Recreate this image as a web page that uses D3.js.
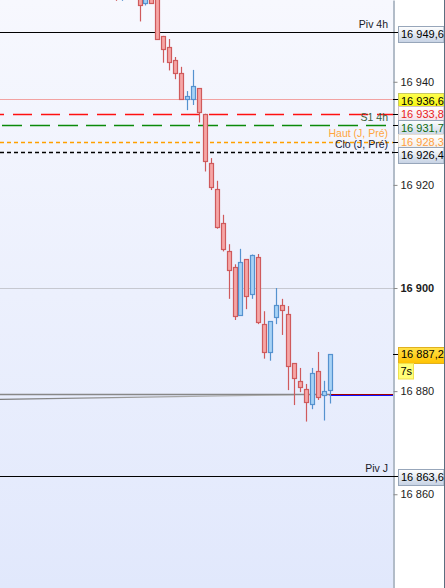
<!DOCTYPE html>
<html><head><meta charset="utf-8">
<script src="https://cdn.jsdelivr.net/npm/d3@7/dist/d3.min.js"></script>
<style>html,body{margin:0;padding:0;background:#fff;overflow:hidden;}svg{display:block;}</style>
</head><body>
<svg id="chart" width="445" height="588"></svg>
<script>
// ---------- DATA ----------
const candleIdx = d3.range(-4, 33);
const opens  = [16962.0,16957.0,16963.0,16958.0,16958.0,16955.2,16957.8,16956.5,16948.9,16946.8,16944.2,16941.7,16936.6,16936.6,16938.7,16933.7,16924.2,16919.2,16912.6,16907.1,16904.0,16894.8,16905.6,16898.9,16906.0,16893.0,16887.5,16894.3,16896.8,16894.9,16885.4,16881.9,16880.4,16877.5,16883.9,16879.3,16880.3];
const highs  = [16963.0,16961.0,16964.0,16963.0,16959.0,16958.0,16958.5,16957.0,16948.9,16948.3,16944.8,16942.9,16938.2,16942.3,16938.7,16933.8,16925.2,16920.8,16914.2,16908.5,16904.6,16907.6,16905.6,16906.5,16906.6,16895.5,16893.6,16900.0,16897.9,16896.5,16885.4,16884.5,16881.4,16884.5,16887.6,16882.0,16887.2];
const lows   = [16955.7,16955.7,16957.0,16956.5,16951.7,16954.8,16955.1,16948.2,16943.7,16942.2,16940.5,16936.6,16934.5,16935.5,16932.1,16922.6,16919.0,16911.5,16907.1,16897.9,16893.8,16894.8,16895.9,16897.9,16893.0,16886.3,16885.9,16893.0,16890.9,16880.2,16877.3,16879.8,16874.1,16876.5,16878.3,16874.3,16877.6];
const closes = [16958.0,16960.0,16959.0,16962.0,16954.8,16957.5,16955.2,16948.2,16946.3,16943.8,16941.7,16936.6,16937.2,16939.2,16934.1,16924.6,16919.5,16911.9,16907.5,16903.4,16894.5,16905.0,16898.5,16906.5,16893.5,16887.5,16893.6,16896.8,16895.8,16884.9,16882.5,16880.9,16877.8,16883.5,16878.9,16880.0,16887.2];

const tickValues = [16860, 16880, 16900, 16920, 16940];
const tickLabels = ["16 860", "16 880", "16 900", "16 920", "16 940"];

const levelValues = [16949.6, 16936.6, 16933.8, 16931.7, 16928.3, 16926.4, 16863.6];
const levelNames  = ["Piv 4h", "", "", "S1 4h", "Haut (J, Pré)", "Clo (J, Pré)", "Piv J"];
const levelTags   = ["16 949,6", "16 936,6", "16 933,8", "16 931,7", "16 928,3", "16 926,4", "16 863,6"];

const lastPrice = 16887.2;
const lastTag = "16 887,2";
const timerLabel = "7s";
const refLevel = 16879.35;
const trendIdx = [-23.6, 26];
const trendVals = [16878.4, 16879.3];

// ---------- LAYOUT / STYLE ----------
const W = 445, H = 588, PR = 393;
const FONT = "'Liberation Sans', Arial, sans-serif";
const svg = d3.select("#chart");
const defs = svg.append("defs");

const y = d3.scaleLinear().domain([16841.82, 16955.86]).range([H, 0]);
const x = d3.scaleLinear().domain([0, 32]).range([139.5, 329.6]);
const cy = v => Math.round(y(v)) + 0.5;

function vgrad(id, stops) {
  const g = defs.append("linearGradient").attr("id", id)
    .attr("x1", 0).attr("y1", 0).attr("x2", 0).attr("y2", 1);
  stops.forEach(([o, c]) => g.append("stop").attr("offset", o).attr("stop-color", c));
}
vgrad("bg", [[0, "#f7f8fe"], [1, "#e1e8fc"]]);
vgrad("tagBlue", [[0, "#ffffff"], [1, "#c6d2e4"]]);
vgrad("tagYellow", [[0, "#ffff50"], [1, "#f2f200"]]);
vgrad("tagPink", [[0, "#ffffff"], [1, "#f2dde6"]]);
vgrad("tagWhite", [[0, "#ffffff"], [1, "#f1ece6"]]);
vgrad("tagGold", [[0, "#ffe24a"], [1, "#ffc200"]]);

const tg = defs.append("linearGradient").attr("id", "trendGrad")
  .attr("gradientUnits", "userSpaceOnUse")
  .attr("x1", 0).attr("y1", 0).attr("x2", x(trendIdx[1])).attr("y2", 0);
tg.append("stop").attr("offset", 0).attr("stop-color", "#7a7a7a");
tg.append("stop").attr("offset", 1).attr("stop-color", "#c4c4c4");

defs.append("clipPath").attr("id", "plotClip").append("rect")
  .attr("x", 0).attr("y", 0).attr("width", PR).attr("height", H);

// background
svg.append("rect").attr("x", 0).attr("y", 0).attr("width", W).attr("height", H).attr("fill", "#fff");
svg.append("rect").attr("x", 0).attr("y", 0).attr("width", PR).attr("height", H).attr("fill", "url(#bg)");

const plot = svg.append("g").attr("clip-path", "url(#plotClip)");

// grid line (major)
plot.append("line").attr("x1", 0).attr("x2", PR)
  .attr("y1", cy(16900)).attr("y2", cy(16900))
  .attr("stroke", "#c6c8d0").attr("stroke-width", 1);

// level lines
const levelStyle = [
  {c: "#000000", w: 1, d: null, off: 0},
  {c: "#f2a2a2", w: 1, d: null, off: 0},
  {c: "#ff1010", w: 1.5, d: "19,9", off: 15},
  {c: "#0a8a0a", w: 1.5, d: "20,8", off: 26},
  {c: "#ffa000", w: 1.3, d: "4,3", off: 0},
  {c: "#000000", w: 1.3, d: "4,3", off: 0},
  {c: "#000000", w: 1, d: null, off: 0}
];
const nameColor = ["#1a1a28", null, null, "#3a5e3a", "#ffa640", "#14213f", "#1a1a28"];

levelValues.forEach((v, i) => {
  const s = levelStyle[i];
  const ln = plot.append("line").attr("x1", 0).attr("x2", PR)
    .attr("y1", cy(v)).attr("y2", cy(v))
    .attr("stroke", s.c).attr("stroke-width", s.w);
  if (s.d) ln.attr("stroke-dasharray", s.d).attr("stroke-dashoffset", s.off);
});

// trend line & reference line
plot.append("line")
  .attr("x1", x(trendIdx[0])).attr("x2", x(trendIdx[1]))
  .attr("y1", y(trendVals[0])).attr("y2", y(trendVals[1]))
  .attr("stroke", "url(#trendGrad)").attr("stroke-width", 1.3);
plot.append("line").attr("x1", 0).attr("x2", x(32))
  .attr("y1", y(refLevel)).attr("y2", y(refLevel))
  .attr("stroke", "#878787").attr("stroke-width", 1.6);
const ry = Math.floor(y(refLevel)) + 0.5;
plot.append("line").attr("x1", x(32)).attr("x2", PR)
  .attr("y1", ry + 1).attr("y2", ry + 1)
  .attr("stroke", "#1010ff").attr("stroke-width", 1);
plot.append("line").attr("x1", x(32)).attr("x2", PR)
  .attr("y1", ry).attr("y2", ry)
  .attr("stroke", "#a00000").attr("stroke-width", 1);

// candles
const candles = candleIdx.map((k, i) => ({k, o: opens[i], h: highs[i], l: lows[i], c: closes[i]}));
const cg = plot.append("g");
candles.forEach(d => {
  const up = d.c >= d.o;
  const stroke = up ? "#5592cf" : "#cf5a5c";
  const fill = up ? "#a8d3f6" : "#f6a6a6";
  const px = Math.round(x(d.k));
  cg.append("line").attr("x1", px + 0.5).attr("x2", px + 0.5)
    .attr("y1", y(d.h)).attr("y2", y(d.l))
    .attr("stroke", stroke).attr("stroke-width", 1.2);
  const top = Math.round(y(Math.max(d.o, d.c)));
  const bot = Math.round(y(Math.min(d.o, d.c)));
  cg.append("rect").attr("x", px - 2 + 0.5).attr("y", top + 0.5)
    .attr("width", 4).attr("height", Math.max(1, bot - top))
    .attr("fill", fill).attr("stroke", stroke).attr("stroke-width", 1.2);
});

// level names in plot (nudged upward when they would collide)
const named = levelValues.map((v, i) => ({i, b: y(v) - 4})).filter(d => levelNames[d.i]);
for (let k = named.length - 2; k >= 0; k--) {
  if (named[k + 1].b - named[k].b < 11) named[k].b = named[k + 1].b - 11;
}
named.forEach(d => {
  plot.append("text").attr("x", 388).attr("y", d.b)
    .attr("text-anchor", "end").attr("font-family", FONT).attr("font-size", 10.5)
    .attr("fill", nameColor[d.i]).text(levelNames[d.i]);
});

// right axis
const axis = d3.axisRight(y).tickValues(tickValues)
  .tickFormat((d, i) => tickLabels[i]).tickSize(4).tickSizeOuter(0).tickPadding(3);
const ag = svg.append("g").attr("transform", `translate(${PR + 0.5},0)`).call(axis);
ag.select(".domain").attr("stroke", "#7f8fa3").attr("stroke-width", 1.2);
ag.selectAll(".tick line").attr("stroke", "#8a8a8a");
ag.selectAll(".tick text").attr("font-family", FONT).attr("font-size", 11).attr("fill", "#1c1c1c")
  .attr("font-weight", d => d === 16900 ? "bold" : "normal");

// tags for levels
const tagStyle = [
  {f: "url(#tagBlue)", s: "#97a6ba", t: "#000"},
  {f: "url(#tagYellow)", s: "#c8c860", t: "#000"},
  {f: "url(#tagPink)", s: "#d0c0c8", t: "#e82020"},
  {f: "url(#tagBlue)", s: "#97a6ba", t: "#0d6a0d"},
  {f: "url(#tagWhite)", s: "#e6ddd2", t: "#ffa040"},
  {f: "url(#tagBlue)", s: "#97a6ba", t: "#000"},
  {f: "url(#tagBlue)", s: "#97a6ba", t: "#000"}
];
let pos = levelValues.map(v => y(v) + 1.5);
const GAP = 13.5;
for (let it = 0; it < 60; it++) {
  for (let i = 1; i < pos.length; i++) {
    const d = pos[i] - pos[i - 1];
    if (d < GAP) { const p = (GAP - d) / 2; pos[i - 1] -= p; pos[i] += p; }
  }
}
const tagG = svg.append("g");
levelValues.forEach((v, i) => {
  tagG.append("line").attr("x1", PR).attr("x2", PR + 5).attr("y1", cy(v)).attr("y2", cy(v))
    .attr("stroke", "#000").attr("stroke-width", 1);
});
levelValues.forEach((v, i) => {
  const s = tagStyle[i];
  const c = pos[i];
  tagG.append("rect").attr("x", 398.5).attr("y", Math.round(c - 8) + 0.5)
    .attr("width", 45.5).attr("height", 16)
    .attr("fill", s.f).attr("stroke", s.s).attr("stroke-width", 1);
  tagG.append("text").attr("x", 401).attr("y", c).attr("dy", "0.36em")
    .attr("font-family", FONT).attr("font-size", 11).attr("fill", s.t).text(levelTags[i]);
});

// last price tag + timer
const lp = y(lastPrice);
tagG.append("line").attr("x1", PR).attr("x2", PR + 5).attr("y1", cy(lastPrice)).attr("y2", cy(lastPrice))
  .attr("stroke", "#000").attr("stroke-width", 1);
tagG.append("rect").attr("x", 398.5).attr("y", Math.round(lp - 7.5) + 0.5)
  .attr("width", 47).attr("height", 16)
  .attr("fill", "url(#tagGold)").attr("stroke", "#e0b020").attr("stroke-width", 1);
tagG.append("text").attr("x", 401).attr("y", lp + 0.5).attr("dy", "0.36em")
  .attr("font-family", FONT).attr("font-size", 11).attr("fill", "#000").text(lastTag);
tagG.append("rect").attr("x", 398.5).attr("y", Math.round(lp + 9) + 0.5)
  .attr("width", 15).attr("height", 15.5)
  .attr("fill", "#ffff78").attr("stroke", "#f0e050").attr("stroke-width", 1);
tagG.append("text").attr("x", 400.5).attr("y", lp + 17).attr("dy", "0.36em")
  .attr("font-family", FONT).attr("font-size", 11).attr("fill", "#000").text(timerLabel);

// right border
svg.append("line").attr("x1", W - 0.5).attr("x2", W - 0.5).attr("y1", 0).attr("y2", H)
  .attr("stroke", "#5c6e80").attr("stroke-width", 1);
</script>
</body></html>
